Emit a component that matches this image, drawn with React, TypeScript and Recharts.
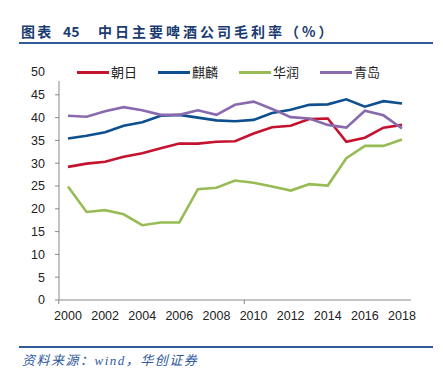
import { LineChart, Line, XAxis, YAxis } from "recharts";

const years = [
  "2000", "2001", "2002", "2003", "2004", "2005", "2006", "2007", "2008", "2009",
  "2010", "2011", "2012", "2013", "2014", "2015", "2016", "2017", "2018"
];
const asahi = [29.2, 29.9, 30.3, 31.4, 32.2, 33.3, 34.3, 34.3, 34.7, 34.8, 36.5, 37.9, 38.2, 39.7, 39.8, 34.7, 35.6, 37.8, 38.4];
const kirin = [35.4, 36.0, 36.8, 38.2, 39.0, 40.4, 40.6, 40.0, 39.4, 39.2, 39.5, 41.0, 41.7, 42.8, 42.9, 44.0, 42.4, 43.6, 43.1];
const huarun = [24.9, 19.3, 19.7, 18.8, 16.4, 17.0, 17.0, 24.3, 24.6, 26.2, 25.7, 24.9, 24.0, 25.4, 25.1, 31.1, 33.8, 33.8, 35.2];
const tsingtao = [40.4, 40.2, 41.4, 42.3, 41.6, 40.6, 40.6, 41.6, 40.6, 42.8, 43.5, 41.9, 40.1, 39.8, 38.4, 37.8, 41.5, 40.5, 37.6];
const yTicks = [0, 5, 10, 15, 20, 25, 30, 35, 40, 45, 50];

const series = [
  { key: "asahi", name: "朝日", color: "#C4122F" },
  { key: "kirin", name: "麒麟", color: "#0E4F90" },
  { key: "huarun", name: "华润", color: "#98BC55" },
  { key: "tsingtao", name: "青岛", color: "#8A6AAE" }
];

const data = years.map((year, i) => ({
  year,
  asahi: asahi[i],
  kirin: kirin[i],
  huarun: huarun[i],
  tsingtao: tsingtao[i]
}));

const cjk = "'Noto Sans CJK SC', sans-serif";
const num = "'Liberation Sans', Arial, sans-serif";

// half of one category step (plot is 352px wide, 19 points)
const HALF_STEP = 352 / 19 / 2;

// year label, plus a small tick mark at every decade boundary like the original
function YearTick(props: any) {
  const { x, y, payload } = props;
  const axisY = y - 11;
  const decade = Number(payload.value) % 10 === 0;
  return (
    <g>
      {decade && (
        <line
          x1={x - HALF_STEP}
          x2={x - HALF_STEP}
          y1={axisY}
          y2={axisY + 4}
          stroke="#888"
        />
      )}
      <text
        x={x}
        y={y}
        dy="0.71em"
        textAnchor="middle"
        fill="#222"
        fontSize={12.5}
        fontFamily={num}
      >
        {payload.value}
      </text>
    </g>
  );
}

export default function App() {
  return (
    <div
      style={{
        position: "fixed",
        left: 0,
        top: 0,
        width: 443,
        height: 375,
        background: "#fff",
        overflow: "hidden"
      }}
    >
      {/* title */}
      <div
        style={{
          position: "absolute",
          top: 21,
          left: 21,
          fontFamily: cjk,
          fontWeight: 700,
          fontSize: 14,
          color: "#1B3C72",
          whiteSpace: "nowrap",
          lineHeight: "20px"
        }}
      >
        <span style={{ position: "absolute", left: 0, letterSpacing: 2.2 }}>图表</span>
        <span style={{ position: "absolute", left: 42 }}>45</span>
        <span style={{ position: "absolute", left: 77, letterSpacing: 3 }}>
          中日主要啤酒公司毛利率（%）
        </span>
      </div>
      <div
        style={{
          position: "absolute",
          top: 42,
          left: 19,
          width: 414,
          height: 2,
          background: "#2E5A9C"
        }}
      />

      <LineChart
        width={443}
        height={375}
        data={data}
        margin={{ top: 72, right: 32, bottom: 45, left: 0 }}
      >
        <XAxis
          dataKey="year"
          interval={1}
          padding={{ left: 9, right: 9 }}
          tickLine={false}
          tickSize={4}
          tickMargin={7}
          axisLine={{ stroke: "#888" }}
          tick={<YearTick />}
          height={30}
        />
        <YAxis
          domain={[0, 50]}
          ticks={yTicks}
          width={59}
          tickSize={4}
          tickMargin={10}
          axisLine={{ stroke: "#888" }}
          tickLine={{ stroke: "#888" }}
          tick={{ fill: "#222", fontSize: 12.5, fontFamily: num }}
        />
        {series.map((s) => (
          <Line
            key={s.key}
            dataKey={s.key}
            name={s.name}
            type="linear"
            stroke={s.color}
            strokeWidth={2.6}
            dot={false}
            isAnimationActive={false}
          />
        ))}
      </LineChart>

      {/* legend */}
      <div
        style={{
          position: "absolute",
          top: 62,
          left: 55,
          width: 345,
          height: 19,
          background: "#fff"
        }}
      >
        {series.map((s, i) => (
          <div
            key={s.key}
            style={{
              position: "absolute",
              left: 22 + i * 81,
              top: 0,
              height: 19,
              display: "flex",
              alignItems: "center"
            }}
          >
            <div style={{ width: 32, height: 2.6, background: s.color, marginTop: 2 }} />
            <span
              style={{
                marginLeft: 2,
                fontFamily: cjk,
                fontSize: 13,
                color: "#222",
                lineHeight: "19px"
              }}
            >
              {s.name}
            </span>
          </div>
        ))}
      </div>

      {/* source */}
      <div
        style={{
          position: "absolute",
          top: 346,
          left: 19,
          width: 414,
          height: 2,
          background: "#2E5A9C"
        }}
      />
      <div
        style={{
          position: "absolute",
          top: 352,
          left: 22,
          fontFamily: "'Liberation Serif', 'Noto Sans CJK SC', serif",
          fontStyle: "italic",
          fontSize: 13,
          letterSpacing: 1.5,
          color: "#2E5A9C",
          whiteSpace: "nowrap",
          lineHeight: "18px"
        }}
      >
        资料来源：wind，华创证券
      </div>
    </div>
  );
}
